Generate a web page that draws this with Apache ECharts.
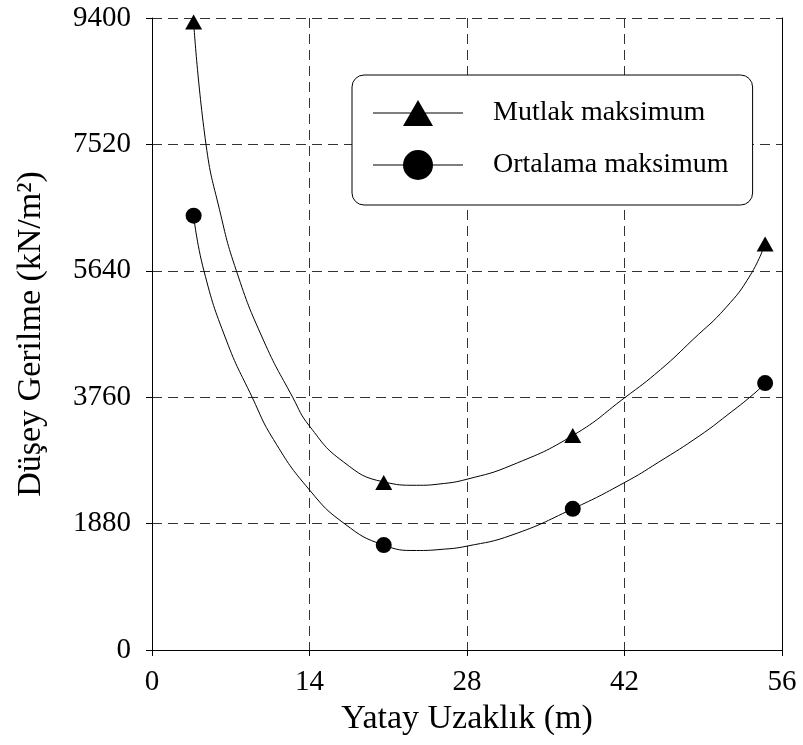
<!DOCTYPE html>
<html>
<head>
<meta charset="utf-8">
<script src="https://cdn.jsdelivr.net/npm/echarts@6/dist/echarts.min.js"></script>
<style>
  html, body { margin: 0; padding: 0; background: #fff; }
  #chart { width: 803px; height: 745px; }
</style>
</head>
<body>
<div id="chart"></div>
<script>
// olculen noktalar (isaretler)
const pointX = [3.7, 20.6, 37.4, 54.5]
const mutlakMax = [9340, 2490, 3190, 6040]
const ortalamaMax = [6460, 1560, 2100, 3970]

// egriler
const mutlakCurveX = [3.7, 4.8, 6.0, 7.5, 9.9, 12.5, 14.0, 17.0, 20.6, 23.5, 25.6, 28.0, 32.0, 37.5, 42.0, 45.2, 48.1, 51.0, 53.2, 54.5]
const mutlakCurveY = [9340, 7520, 6550, 5640, 4610, 3760, 3330, 2800, 2500, 2450, 2470, 2540, 2750, 3200, 3750, 4170, 4620, 5090, 5580, 6040]
const ortalamaCurveX = [3.7, 4.6, 6.6, 8.9, 10.8, 14.0, 17.1, 20.6, 23.5, 25.6, 28.0, 32.0, 37.4, 42.0, 45.0, 48.7, 51.1, 53.5, 54.5]
const ortalamaCurveY = [6460, 5650, 4610, 3760, 3130, 2380, 1880, 1560, 1480, 1495, 1545, 1710, 2100, 2490, 2790, 3190, 3490, 3810, 3970]

// eksen degerleri
const xTicks = [0, 14, 28, 42, 56]
const yTicks = [0, 1880, 3760, 5640, 7520, 9400]

const seriesNames = ['Mutlak maksimum', 'Ortalama maksimum']

const font = '"Liberation Serif", "Times New Roman", serif'

// lejant ikonlari: cizgi + isaret
const triIcon = 'path://M0,14.5H38V15.5H0Z M52,14.5H90V15.5H52Z M45,2L60,28L30,28Z'
const dotIcon = 'path://M0,14.5H31V15.5H0Z M59,14.5H90V15.5H59Z M30,15A15,15 0 1,1 60,15A15,15 0 1,1 30,15Z'

function zip(xs, ys) {
  return xs.map((x, i) => [x, ys[i]])
}

const chart = echarts.init(document.getElementById('chart'))

const axisLineStyle = { color: '#000', width: 1 }
const gridLineStyle = { color: '#333', type: [10, 6], width: 1 }

const option = {
  animation: false,
  backgroundColor: '#fff',
  textStyle: { fontFamily: font, color: '#000' },
  grid: { left: 152, right: 21, top: 18, bottom: 95 },
  legend: {
    orient: 'vertical',
    left: 352,
    top: 75,
    padding: [24, 24, 25, 21],
    itemWidth: 90,
    itemHeight: 30,
    itemGap: 23,
    borderColor: '#000',
    borderWidth: 1,
    borderRadius: 12,
    backgroundColor: '#fff',
    textStyle: { fontFamily: font, fontSize: 28, color: '#000', padding: [0, 0, 0, 25] },
    data: [
      { name: seriesNames[0], icon: triIcon },
      { name: seriesNames[1], icon: dotIcon }
    ]
  },
  xAxis: {
    type: 'value',
    min: xTicks[0],
    max: xTicks[xTicks.length - 1],
    interval: 14,
    name: 'Yatay Uzaklık (m)',
    nameLocation: 'middle',
    nameGap: 46,
    nameTextStyle: { fontFamily: font, fontSize: 34, color: '#000' },
    axisLine: { onZero: false, lineStyle: axisLineStyle },
    axisTick: { show: true, length: 6, lineStyle: { color: '#000' } },
    axisLabel: { margin: 18, fontFamily: font, fontSize: 29, color: '#000', formatter: v => String(v) },
    splitLine: { show: true, lineStyle: gridLineStyle }
  },
  yAxis: [
    {
      type: 'value',
      min: yTicks[0],
      max: yTicks[yTicks.length - 1],
      interval: 1880,
      name: 'Düşey Gerilme (kN/m²)',
      nameLocation: 'middle',
      nameGap: 104,
      nameRotate: 90,
      nameTextStyle: { fontFamily: font, fontSize: 34, color: '#000' },
      axisLine: { show: true, onZero: false, lineStyle: axisLineStyle },
      axisTick: { show: true, length: 6, lineStyle: { color: '#000' } },
      axisLabel: { margin: 21, fontFamily: font, fontSize: 29, color: '#000', formatter: v => String(v) },
      splitLine: { show: true, lineStyle: gridLineStyle }
    },
    {
      // sag cerceve
      type: 'value',
      position: 'right',
      min: yTicks[0],
      max: yTicks[yTicks.length - 1],
      interval: 1880,
      axisLine: { show: true, onZero: false, lineStyle: axisLineStyle },
      axisTick: { show: false },
      axisLabel: { show: false },
      splitLine: { show: false }
    }
  ],
  series: [
    {
      name: seriesNames[0],
      type: 'line',
      data: zip(mutlakCurveX, mutlakCurveY),
      smooth: 0.5,
      showSymbol: false,
      symbol: 'none',
      lineStyle: { color: '#000', width: 1 },
      itemStyle: { color: '#000' },
      silent: true,
      z: 2
    },
    {
      name: seriesNames[1],
      type: 'line',
      data: zip(ortalamaCurveX, ortalamaCurveY),
      smooth: 0.5,
      showSymbol: false,
      symbol: 'none',
      lineStyle: { color: '#000', width: 1 },
      itemStyle: { color: '#000' },
      silent: true,
      z: 2
    },
    {
      name: seriesNames[0],
      type: 'scatter',
      data: zip(pointX, mutlakMax),
      symbol: 'triangle',
      symbolSize: [17, 15],
      itemStyle: { color: '#000', opacity: 1 },
      z: 3
    },
    {
      name: seriesNames[1],
      type: 'scatter',
      data: zip(pointX, ortalamaMax),
      symbol: 'circle',
      symbolSize: 16,
      itemStyle: { color: '#000', opacity: 1 },
      z: 3
    }
  ]
}

chart.setOption(option)
</script>
</body>
</html>
